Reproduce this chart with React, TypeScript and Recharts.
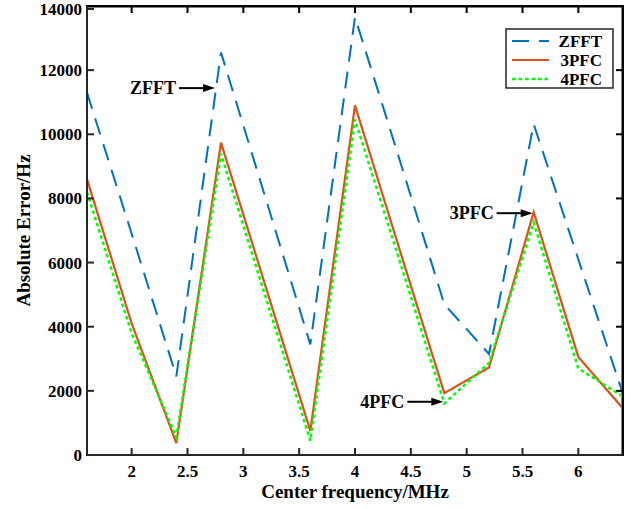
import React from 'react';
import * as R from 'recharts';
import { LineChart, Line, XAxis, YAxis, ReferenceDot, ReferenceLine } from 'recharts';

const freq = [1.6, 2.0, 2.4, 2.8, 3.2, 3.6, 4.0, 4.4, 4.8, 5.2, 5.6, 6.0, 6.4];
const zfft = [11300, 6900, 2450, 12550, 8000, 3450, 13650, 9200, 4700, 3150, 10320, 6100, 1900];
const pfc3 = [8600, 4100, 370, 9740, 5250, 750, 10900, 6400, 1930, 2730, 7570, 3060, 1450];
const pfc4 = [8200, 3800, 560, 9390, 4920, 450, 10460, 6050, 1610, 2870, 7250, 2700, 1820];
const xTicks = [2, 2.5, 3, 3.5, 4, 4.5, 5, 5.5, 6];
const yTicks = [0, 2000, 4000, 6000, 8000, 10000, 12000, 14000];
const xDomain = [1.6, 6.4];
const yDomain = [0, 14000];
const seriesNames = ['ZFFT', '3PFC', '4PFC'];
const annotations = [
  { label: 'ZFFT', x: 2.746, y: 11440 },
  { label: '3PFC', x: 5.591, y: 7540 },
  { label: '4PFC', x: 4.791, y: 1660 },
];
const xTitle = 'Center frequency/MHz';
const yTitle = 'Absolute Error/Hz';

const data = freq.map((f, i) => ({ f, zfft: zfft[i], pfc3: pfc3[i], pfc4: pfc4[i] }));

const FONT = '"Liberation Serif", "Times New Roman", serif';
const AXIS = '#262626';
const FRAME = 'black';
const BLUE = '#0072BD';
const ORANGE = '#D95319';
const GREEN = '#00FF00';
const TICK_LEN = 7;

const txt = (size: number) => ({ fontFamily: FONT, fontWeight: 700, fontSize: size, fill: '#000' });

const BottomTick = (p: any) => (
  <g>
    <line x1={p.x} x2={p.x} y1={p.y} y2={p.y - TICK_LEN} stroke={AXIS} strokeWidth={2} />
    <text x={p.x} y={p.y + 22} textAnchor="middle" style={txt(17)}>
      {p.payload.value}
    </text>
  </g>
);
const LeftTick = (p: any) => (
  <g>
    <line x1={p.x} x2={p.x + TICK_LEN} y1={p.y} y2={p.y} stroke={AXIS} strokeWidth={2} />
    <text x={p.x - 5} y={p.y + 6} textAnchor="end" style={txt(17)}>
      {p.payload.value}
    </text>
  </g>
);

const Annot = (props: any) => {
  const { cx, cy, label } = props;
  if (cx == null || cy == null) return null;
  const lineStart = cx - 36;
  return (
    <g>
      <line x1={lineStart} y1={cy} x2={cx - 10} y2={cy} stroke="#000" strokeWidth={2} />
      <polygon points={`${cx},${cy} ${cx - 12},${cy - 4} ${cx - 12},${cy + 4}`} fill="#000" />
      <text x={lineStart - 3} y={cy + 6} textAnchor="end" style={txt(18)}>
        {label}
      </text>
    </g>
  );
};

const legendRows = [
  { name: seriesNames[0], color: BLUE, dash: '17 10', w: 2 },
  { name: seriesNames[1], color: ORANGE, dash: undefined, w: 2.2 },
  { name: seriesNames[2], color: GREEN, dash: '3.5 3', w: 2.5 },
];

const Decor = () => {
  const hook: any = (R as any).usePlotArea || (R as any).useOffset;
  const area = hook ? hook() : null;
  if (!area) return null;
  const x = area.x != null ? area.x : area.left;
  const y = area.y != null ? area.y : area.top;
  const w = area.width;
  const h = area.height;
  const lx = x + w - 117;
  const ly = y + 23;
  return (
    <g>
      <rect x={x} y={y} width={w} height={h} fill="none" stroke={FRAME} strokeWidth={2} />
      <line x1={x} x2={x + w} y1={y + 0.5} y2={y + 0.5} stroke={FRAME} strokeWidth={2} />
      <line x1={x + w - 0.5} x2={x + w - 0.5} y1={y} y2={y + h} stroke={FRAME} strokeWidth={2} />
      <text x={x + w / 2} y={498} textAnchor="middle" style={txt(19)}>
        {xTitle}
      </text>
      <text
        x={23}
        y={y + h / 2}
        transform={`rotate(-90 23 ${y + h / 2})`}
        textAnchor="middle"
        dominantBaseline="central"
        style={txt(19)}
      >
        {yTitle}
      </text>
      <g transform={`translate(${lx},${ly})`}>
        <rect x={0} y={0} width={107} height={59} fill="#fff" stroke={AXIS} strokeWidth={1.5} />
        {legendRows.map((r, i) => (
          <g key={r.name}>
            <line
              x1={6}
              x2={43}
              y1={12 + i * 19}
              y2={12 + i * 19}
              stroke={r.color}
              strokeWidth={r.w}
              strokeDasharray={r.dash}
            />
            <text x={96} y={18 + i * 19} textAnchor="end" style={txt(17)}>
              {r.name}
            </text>
          </g>
        ))}
      </g>
    </g>
  );
};

const TopTickMark = (p: any) =>
  p.cx == null ? null : (
    <line x1={p.cx} x2={p.cx} y1={p.cy} y2={p.cy + TICK_LEN} stroke={FRAME} strokeWidth={2} />
  );
const RightTickMark = (p: any) =>
  p.cx == null ? null : (
    <line x1={p.cx} x2={p.cx - TICK_LEN} y1={p.cy} y2={p.cy} stroke={FRAME} strokeWidth={2} />
  );

export default function App() {
  return (
    <div style={{ width: 633, height: 509, background: '#fff', position: 'relative' }}>
      <style>{`body{margin:0}`}</style>
      <LineChart width={633} height={509} data={data} margin={{ top: 0, right: 0, bottom: 0, left: 0 }}>
        <XAxis
          xAxisId={0}
          dataKey="f"
          type="number"
          domain={xDomain}
          ticks={xTicks}
          allowDataOverflow
          height={54}
          stroke={AXIS}
          strokeWidth={2}
          tickLine={false}
          tickSize={0}
          tickMargin={0}
          tick={BottomTick}
        />
        <XAxis
          xAxisId="top"
          orientation="top"
          dataKey="f"
          type="number"
          domain={xDomain}
          ticks={xTicks}
          allowDataOverflow
          height={6}
          stroke={FRAME}
          strokeWidth={2}
          tick={false}
        />
        <YAxis
          yAxisId={0}
          type="number"
          domain={yDomain}
          ticks={yTicks}
          allowDataOverflow
          width={87}
          stroke={AXIS}
          strokeWidth={2}
          tickLine={false}
          tickSize={0}
          tickMargin={0}
          tick={LeftTick}
        />
        <YAxis
          yAxisId="right"
          orientation="right"
          type="number"
          domain={yDomain}
          ticks={yTicks}
          allowDataOverflow
          width={10}
          stroke={FRAME}
          strokeWidth={2}
          tick={false}
        />
        <ReferenceLine y={yDomain[1]} stroke={FRAME} strokeWidth={2} />
        <ReferenceLine x={xDomain[1]} stroke={FRAME} strokeWidth={2} />
        {xTicks.map((t) => (
          <ReferenceDot key={`tx${t}`} x={t} y={yDomain[1]} r={0} ifOverflow="visible" shape={TopTickMark} />
        ))}
        {yTicks.slice(1, -1).map((t) => (
          <ReferenceDot key={`ty${t}`} x={xDomain[1]} y={t} r={0} ifOverflow="visible" shape={RightTickMark} />
        ))}
        <Line dataKey="zfft" stroke={BLUE} strokeWidth={2} strokeDasharray="17 10" dot={false} isAnimationActive={false} />
        <Line dataKey="pfc3" stroke={ORANGE} strokeWidth={2.2} dot={false} isAnimationActive={false} />
        <Line dataKey="pfc4" stroke={GREEN} strokeWidth={2.5} strokeDasharray="3.5 3" dot={false} isAnimationActive={false} />
        {annotations.map((a) => (
          <ReferenceDot
            key={a.label}
            x={a.x}
            y={a.y}
            r={0}
            shape={(p: any) => <Annot cx={p.cx} cy={p.cy} label={a.label} />}
          />
        ))}
        <Decor />
      </LineChart>
    </div>
  );
}
